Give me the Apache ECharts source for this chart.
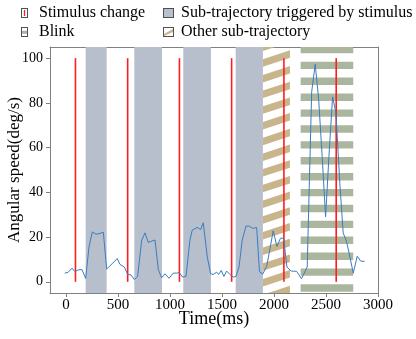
<!DOCTYPE html>
<html><head><meta charset="utf-8">
<script src="https://cdn.jsdelivr.net/npm/echarts@6/dist/echarts.min.js"></script>
<style>html,body{margin:0;padding:0;background:#fff}#c{width:416px;height:339px}</style>
</head><body><div id="c"></div>
<script>
// ---- data ----
const speedX = [-13, 18, 57, 83, 121, 153, 188, 220, 252, 288, 326, 358, 390, 441, 492, 518, 560, 592, 624, 656, 688, 727, 759, 790, 823, 855, 887, 919, 951, 990, 1031, 1063, 1088, 1121, 1153, 1191, 1213, 1261, 1294, 1319, 1358, 1390, 1415, 1448, 1467, 1492, 1518, 1544, 1576, 1608, 1634, 1663, 1694, 1730, 1762, 1794, 1833, 1860, 1890, 1929, 1961, 1992, 2028, 2062, 2092, 2124, 2165, 2217, 2264, 2319, 2362, 2396, 2429, 2463, 2496, 2528, 2563, 2595, 2633, 2665, 2698, 2730, 2762, 2800, 2833, 2871];
const speedY = [3.9, 4.2, 6.1, 4.6, 5.4, 5.4, 1.5, 15.6, 22.3, 21.3, 21.6, 22.2, 5.7, 8.0, 10.4, 7.8, 6.6, 3.3, 3.1, 1.0, 2.4, 18.6, 21.9, 17.6, 18.2, 18.7, 5.4, 1.8, 3.6, 1.6, 3.9, 3.9, 4.1, 2.1, 2.4, 18.6, 23.1, 24.3, 23.4, 26.4, 11.1, 3.6, 3.3, 4.3, 3.3, 5.1, 2.4, 4.8, 3.3, 2.1, 2.4, 6.6, 18.6, 24.9, 24.9, 23.9, 24.3, 4.5, 3.4, 6.9, 14.8, 22.8, 15.8, 19.5, 19.5, 6.6, 4.8, 4.7, 1.4, 6.6, 85.0, 97.3, 81.7, 56.0, 29.1, 56.0, 82.7, 75.7, 44.0, 21.9, 17.9, 11.1, 3.9, 11.4, 9.3, 9.1];
const stimulusTimes = [90, 592, 1090, 1592, 2095, 2598];
const triggeredStart = [188, 656, 1127, 1631];
const triggeredEnd = [390, 922, 1393, 1893];
const otherStart = [1893];
const otherEnd = [2153];
const blinkStart = [2256];
const blinkEnd = [2762];
const xTicks = [0, 500, 1000, 1500, 2000, 2500, 3000];
const yTicks = [0, 20, 40, 60, 80, 100];
const X_MIN = -155, X_MAX = 3000, Y_MIN = -5, Y_MAX = 105;

// ---- styles ----
const F = "'Liberation Serif','Times New Roman',serif";
const C_TRIG = '#b7bfcd', C_HATCH = '#c9b58b', C_BLINK = '#abb69f', C_RED = '#ff1c1c', C_LINE = '#3b7dbd', C_AXIS = '#808080';

function icon(w, h, draw) {
  const s = 4, cv = document.createElement('canvas');
  cv.width = w * s; cv.height = h * s;
  const g = cv.getContext('2d'); g.scale(s, s);
  g.fillStyle = '#fff'; g.fillRect(0, 0, w, h);
  draw(g, w, h);
  g.strokeStyle = '#505050'; g.lineWidth = 1; g.strokeRect(0.5, 0.5, w - 1, h - 1);
  return 'image://' + cv.toDataURL();
}
const icStim = icon(7, 10, (g, w, h) => { g.strokeStyle = C_RED; g.lineWidth = 1.3; g.beginPath(); g.moveTo(w / 2, 2); g.lineTo(w / 2, h - 2); g.stroke(); });
const icBlink = icon(7, 10, (g, w, h) => { g.fillStyle = C_BLINK; g.fillRect(1, 3.8, w - 2, 3); });
const icTrig = icon(11, 10, (g, w, h) => { g.fillStyle = C_TRIG; g.fillRect(0, 0, w, h); });
const icOther = icon(11, 10, (g, w, h) => { g.fillStyle = C_HATCH; g.beginPath(); g.moveTo(1, h - 3); g.lineTo(w - 1, 2); g.lineTo(w - 1, 5); g.lineTo(1, h - 1); g.closePath(); g.fill(); });

function bandRect(api) {
  const p0 = api.coord([api.value(0), Y_MAX]);
  const p1 = api.coord([api.value(1), Y_MIN]);
  return { x: p0[0], y: p0[1], width: p1[0] - p0[0], height: p1[1] - p0[1] };
}
function clipHalf(pts, yl, keepGreater) {
  const out = [];
  for (let i = 0; i < pts.length; i++) {
    const a = pts[i], b = pts[(i + 1) % pts.length];
    const ina = keepGreater ? a[1] >= yl : a[1] <= yl;
    const inb = keepGreater ? b[1] >= yl : b[1] <= yl;
    if (ina) out.push(a);
    if (ina !== inb) { const t = (yl - a[1]) / (b[1] - a[1]); out.push([a[0] + t * (b[0] - a[0]), yl]); }
  }
  return out;
}
const plain = v => String(v);

const option = {
  animation: false,
  backgroundColor: '#fff',
  grid: { left: 50, right: 38, top: 47, bottom: 46, outerBoundsMode: 'none', containLabel: false },
  legend: [
    { left: 16, top: 0, orient: 'vertical', itemWidth: 7, itemHeight: 10, itemGap: 3,
      textStyle: { fontFamily: F, fontSize: 16, color: '#000', lineHeight: 16, padding: [0, 0, 0, 6] },
      data: [{ name: 'Stimulus change', icon: icStim }, { name: 'Blink', icon: icBlink }] },
    { left: 158, top: 0, orient: 'vertical', itemWidth: 11, itemHeight: 10, itemGap: 3,
      textStyle: { fontFamily: F, fontSize: 16, color: '#000', lineHeight: 16, padding: [0, 0, 0, 2] },
      data: [{ name: 'Sub-trajectory triggered by stimulus', icon: icTrig }, { name: 'Other sub-trajectory', icon: icOther }] }
  ],
  xAxis: [
    { type: 'value', min: X_MIN, max: X_MAX, name: 'Time(ms)', nameLocation: 'middle', nameGap: 17, nameMoveOverlap: false,
      nameTextStyle: { fontFamily: F, fontSize: 18, color: '#000' },
      axisLine: { show: true, onZero: false, lineStyle: { color: C_AXIS, width: 1 } },
      axisTick: { show: true, length: 4, customValues: xTicks, lineStyle: { color: C_AXIS } },
      axisLabel: { customValues: xTicks, formatter: plain, fontFamily: F, fontSize: 15, color: '#000', margin: 5 },
      splitLine: { show: false } },
    { type: 'value', position: 'top', min: X_MIN, max: X_MAX,
      axisLine: { show: true, onZero: false, lineStyle: { color: C_AXIS, width: 1 } },
      axisTick: { show: false }, axisLabel: { show: false }, splitLine: { show: false } }
  ],
  yAxis: [
    { type: 'value', min: Y_MIN, max: Y_MAX, name: 'Angular speed(deg/s)', nameLocation: 'middle', nameGap: 27, nameMoveOverlap: false,
      nameTextStyle: { fontFamily: F, fontSize: 17, color: '#000' },
      axisLine: { show: true, onZero: false, lineStyle: { color: C_AXIS, width: 1 } },
      axisTick: { show: true, length: 4, customValues: yTicks, lineStyle: { color: C_AXIS } },
      axisLabel: { customValues: yTicks, formatter: plain, fontFamily: F, fontSize: 14, color: '#000', margin: 7 },
      splitLine: { show: false } },
    { type: 'value', position: 'right', min: Y_MIN, max: Y_MAX,
      axisLine: { show: true, onZero: false, lineStyle: { color: C_AXIS, width: 1 } },
      axisTick: { show: false }, axisLabel: { show: false }, splitLine: { show: false } }
  ],
  series: [
    { name: 'Sub-trajectory triggered by stimulus', type: 'custom', silent: true, z: 1, itemStyle: { color: C_TRIG },
      data: triggeredStart.map((s, i) => [s, triggeredEnd[i]]), encode: { x: [0, 1] },
      renderItem: (p, api) => ({ type: 'rect', shape: bandRect(api), style: { fill: C_TRIG } }) },
    { name: 'Other sub-trajectory', type: 'custom', silent: true, z: 1, itemStyle: { color: C_HATCH },
      data: otherStart.map((s, i) => [s, otherEnd[i]]), encode: { x: [0, 1] },
      renderItem: (p, api) => {
        const r = bandRect(api), x0 = r.x, x1 = r.x + r.width, top = r.y, bot = r.y + r.height;
        const P = 15.7, T = 7.5, rise = 0.33 * r.width, kids = [];
        for (let yb = top + 4; yb < bot + rise + T + P; yb += P) {
          let poly = [[x0, yb], [x1, yb - rise], [x1, yb - rise - T], [x0, yb - T]];
          poly = clipHalf(poly, top, true); if (poly.length < 3) continue;
          poly = clipHalf(poly, bot, false); if (poly.length < 3) continue;
          kids.push({ type: 'polygon', shape: { points: poly }, style: { fill: C_HATCH } });
        }
        return { type: 'group', children: kids };
      } },
    { name: 'Blink', type: 'custom', silent: true, z: 1, itemStyle: { color: C_BLINK },
      data: blinkStart.map((s, i) => [s, blinkEnd[i]]), encode: { x: [0, 1] },
      renderItem: (p, api) => {
        const r = bandRect(api), top = r.y, bot = r.y + r.height, kids = [];
        for (let y = top - 1.2; y < bot; y += 15.9) {
          const a = Math.max(y, top), b = Math.min(y + 7.4, bot);
          if (b > a) kids.push({ type: 'rect', shape: { x: r.x, y: a, width: r.width, height: b - a }, style: { fill: C_BLINK } });
        }
        return { type: 'group', children: kids };
      } },
    { name: 'Stimulus change', type: 'custom', silent: true, z: 3, itemStyle: { color: C_RED },
      data: stimulusTimes.map(t => [t]), encode: { x: 0 },
      renderItem: (p, api) => {
        const a = api.coord([api.value(0), 0]), b = api.coord([api.value(0), 100]);
        return { type: 'line', shape: { x1: a[0], y1: a[1], x2: b[0], y2: b[1] }, style: { stroke: C_RED, lineWidth: 1.6 } };
      } },
    { name: 'Angular speed', type: 'line', z: 4, showSymbol: false, symbol: 'none',
      data: speedX.map((x, i) => [x, speedY[i]]),
      lineStyle: { color: C_LINE, width: 1 }, itemStyle: { color: C_LINE } }
  ]
};
const chart = echarts.init(document.getElementById('c'));
chart.setOption(option);
</script>
</body></html>
